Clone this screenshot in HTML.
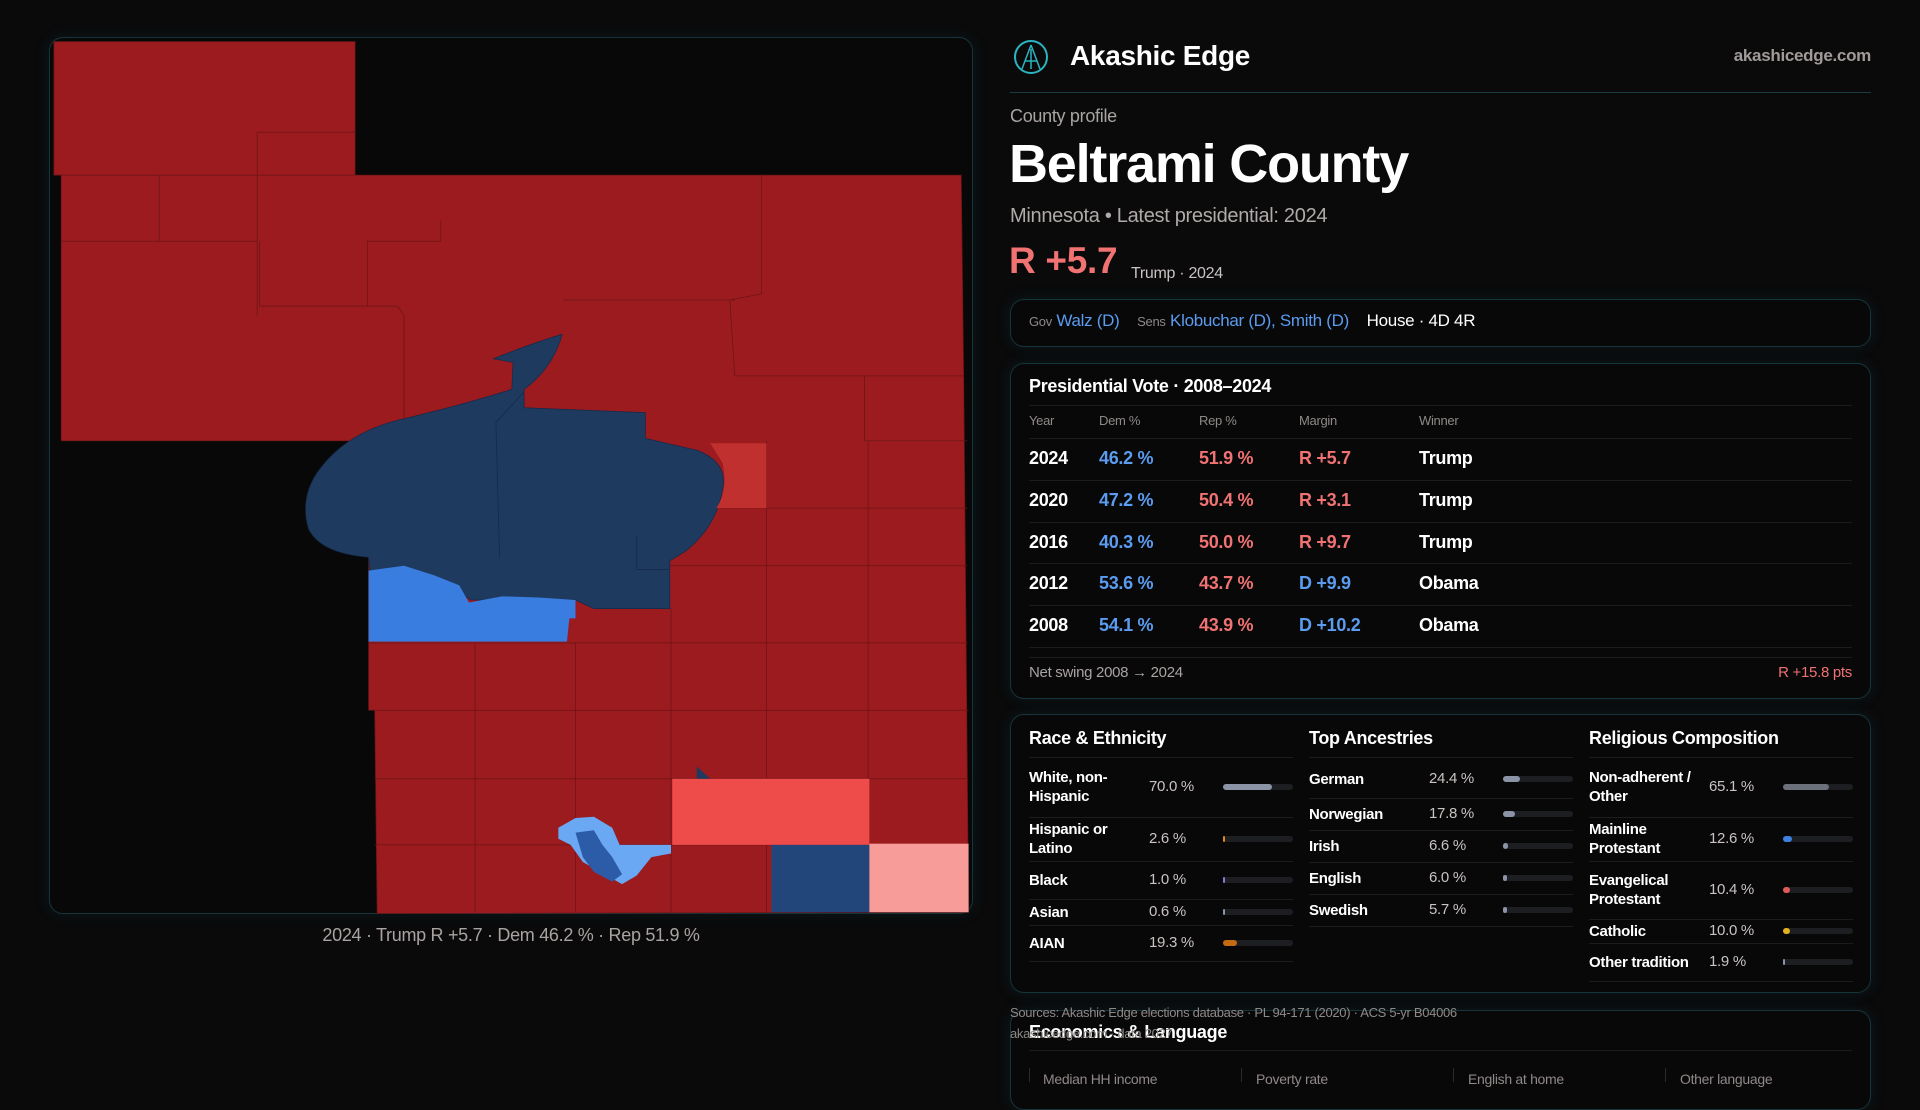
<!DOCTYPE html>
<html><head><meta charset="utf-8">
<style>
*{box-sizing:border-box;margin:0;padding:0}
body{width:1920px;height:1080px;overflow:hidden;background:#0a0a0b;font-family:"Liberation Sans",sans-serif;color:#fff;position:relative;letter-spacing:-0.3px}
.abs{position:absolute;white-space:nowrap}
.panel{position:absolute;border:1px solid #15353b;border-radius:14px;background:#080809;box-shadow:0 0 14px rgba(20,70,80,0.25)}
.gray{color:#a9a3a1}
.blue{color:#5b9cf0}
.red{color:#f07272}
.hdr{font-size:13px;color:#8f8987}
.rowline{position:absolute;left:1029px;width:823px;height:1px;background:#1c1c1f}
.track{position:absolute;height:6px;border-radius:3px;background:#1d1e22}
.fill{position:absolute;left:0;top:0;height:6px;border-radius:3px}
</style></head><body>

<div class="panel" style="left:49px;top:37px;width:924px;height:877px"></div>
<svg class="abs" style="left:0;top:0" width="1920" height="1080" viewBox="0 0 1568 882">
 <g stroke="#6a1417" stroke-width="0.6">
  <path d="M44,34 L290,34 L290,143 L785,143 L787,307 L791,745 L308,746 L306,580 L301,580 L301,360 L50,360 L50,143 L44,143 Z" fill="#9b1b1e"/>
  <path d="M50,143 L290,143 M130,143 L130,197 M50,197 L210,197 L210,258 M210,108 L290,108 M210,108 L210,197 M212,197 L212,250 L300,250 L300,197 L360,197 L360,180 M300,250 L325,250 L330,258 L330,360 M622,143 L622,240 L596,245 L600,307 L787,307 M460,245 L600,245 M706,307 L706,360 L790,360 M626,360 L626,745 M709,360 L709,745 M547,415 L790,415 M547,462 L790,462 M547,525 L790,525 M547,580 L791,580 M306,580 L547,580 M306,636 L791,636 M306,690 L791,690 M388,525 L388,745 M470,525 L470,745 M548,497 L548,745 M301,525 L547,525" fill="none"/>
 </g>
 <path d="M403,293 Q430,282 459,273 Q452,300 428,318 L428,333 L527,337 L527,358 L570,368 Q595,378 590,400 Q585,430 560,450 L547,458 L547,497 L485,497 L470,490 L420,490 L385,490 L360,476 L330,465 L302,466 L301,455 Q262,452 252,432 Q244,405 262,382 Q285,352 330,342 Q372,332 405,322 L418,318 L419,296 Z" fill="#1f3a5f" stroke="#15294a" stroke-width="0.6"/>
 <path d="M428,320 L405,345 L408,455 M520,437 L520,465 L547,465" stroke="#15294a" stroke-width="0.6" fill="none"/>
 <path d="M301,466 L330,462 L355,470 L375,478 L383,492 L410,487 L440,488 L470,490 L470,505 L465,505 L463,524 L301,524 Z" fill="#3a7de0"/>
 <path d="M580,362 L626,362 L626,415 L585,415 Q595,400 590,378 Z" fill="#c0302f"/>
 <rect x="549" y="636" width="161" height="54" fill="#ee4b4b"/>
 <rect x="630" y="690" width="80" height="55" fill="#22467a"/>
 <rect x="710" y="689" width="81" height="56" fill="#f89c9a"/>
 <path d="M456,676 L470,668 L485,667 L500,676 L506,690 L548,690 L548,697 L532,700 L520,715 L508,722 L490,712 L476,704 L466,690 L456,685 Z" fill="#6aa8f4"/>
 <path d="M470,680 L485,678 L492,690 L500,700 L508,714 L500,720 L485,712 L476,700 Z" fill="#2c5ba8"/>
 <path d="M569,626 L580,636 L569,636 Z" fill="#1f3a5f"/>
</svg>
<div class="abs gray" style="left:0;width:1022px;top:925px;font-size:18px;text-align:center">2024 · Trump R +5.7 · Dem 46.2 % · Rep 51.9 %</div>

<svg class="abs" style="left:1013px;top:39px" width="36" height="36" viewBox="0 0 36 36">
 <circle cx="18" cy="18" r="16" fill="none" stroke="#2bb3c0" stroke-width="2"/>
 <path d="M18,6 L9,30 M18,6 L27,30 M12,22 L24,22 M18,10 L18,30" stroke="#2bb3c0" stroke-width="1.5" fill="none"/>
</svg>
<div class="abs" style="left:1070px;top:40px;font-size:28px;font-weight:bold">Akashic Edge</div>
<div class="abs" style="right:49px;top:46px;font-size:17px;font-weight:bold;color:#a09a98">akashicedge.com</div>
<div class="abs" style="left:1010px;top:92px;width:861px;height:1px;background:#1c3a40"></div>

<div class="abs gray" style="left:1010px;top:106px;font-size:18px">County profile</div>
<div class="abs" style="left:1009px;top:133px;font-size:54px;font-weight:bold;letter-spacing:-1.2px">Beltrami County</div>
<div class="abs" style="left:1010px;top:205px;font-size:20px;color:#b0aaa8">Minnesota • Latest presidential: 2024</div>
<div class="abs red" style="left:1009px;top:240px;font-size:37px;font-weight:bold">R +5.7</div>
<div class="abs" style="left:1131px;top:265px;font-size:16px;color:#c9c3c1">Trump · 2024</div>

<div class="panel" style="left:1010px;top:299px;width:861px;height:48px"></div>
<div class="abs" style="left:1029px;top:311px;font-size:17px">
 <span style="font-size:13px;color:#8f8987">Gov</span> <span class="blue">Walz (D)</span>&nbsp;&nbsp;&nbsp; <span style="font-size:13px;color:#8f8987">Sens</span> <span class="blue">Klobuchar (D), Smith (D)</span>&nbsp;&nbsp;&nbsp; <span>House · 4D 4R</span></div>

<div class="panel" style="left:1010px;top:363px;width:861px;height:336px"></div>
<div class="abs" style="left:1029px;top:376px;font-size:18px;font-weight:bold">Presidential Vote · 2008–2024</div>
<div class="rowline" style="top:405px"></div>
<div class="abs hdr" style="left:1029px;top:413px">Year</div>
<div class="abs hdr" style="left:1099px;top:413px">Dem %</div>
<div class="abs hdr" style="left:1199px;top:413px">Rep %</div>
<div class="abs hdr" style="left:1299px;top:413px">Margin</div>
<div class="abs hdr" style="left:1419px;top:413px">Winner</div>
<div class="rowline" style="top:438px"></div>
<div id="vote-rows"></div>
<div class="rowline" style="top:657px"></div>
<div class="abs gray" style="left:1029px;top:664px;font-size:15px">Net swing 2008 → 2024</div>
<div class="abs red" style="right:68px;top:664px;font-size:15px">R +15.8 pts</div>

<div class="panel" style="left:1010px;top:714px;width:861px;height:279px"></div>
<div class="abs" style="left:1029px;top:728px;font-size:18px;font-weight:bold">Race &amp; Ethnicity</div>
<div class="abs" style="left:1309px;top:728px;font-size:18px;font-weight:bold">Top Ancestries</div>
<div class="abs" style="left:1589px;top:728px;font-size:18px;font-weight:bold">Religious Composition</div>
<div id="demo"></div>

<div class="panel" style="left:1010px;top:1010px;width:861px;height:100px"></div>
<div class="abs" style="left:1029px;top:1022px;font-size:18px;font-weight:bold">Economics &amp; Language</div>
<div class="abs" style="left:1029px;top:1050px;width:823px;height:1px;background:#1c1c1f"></div>
<div class="abs hdr" style="left:1043px;top:1071px;font-size:14px">Median HH income</div>
<div class="abs hdr" style="left:1256px;top:1071px;font-size:14px">Poverty rate</div>
<div class="abs hdr" style="left:1468px;top:1071px;font-size:14px">English at home</div>
<div class="abs hdr" style="left:1680px;top:1071px;font-size:14px">Other language</div>
<div class="abs" style="left:1029px;top:1068px;width:1px;height:14px;background:#2a2a2e"></div>
<div class="abs" style="left:1241px;top:1068px;width:1px;height:14px;background:#2a2a2e"></div>
<div class="abs" style="left:1453px;top:1068px;width:1px;height:14px;background:#2a2a2e"></div>
<div class="abs" style="left:1665px;top:1068px;width:1px;height:14px;background:#2a2a2e"></div>
<div class="abs" style="left:1010px;top:1005px;font-size:13px;color:#8f8987">Sources: Akashic Edge elections database · PL 94-171 (2020) · ACS 5-yr B04006</div>
<div class="abs" style="left:1010px;top:1026px;font-size:13px;color:#8f8987">akashicedge.com · data 2027</div>

<script>
const years=["2024","2020","2016","2012","2008"];
const demPct=[46.2,47.2,40.3,53.6,54.1];
const repPct=[51.9,50.4,50.0,43.7,43.9];
const margins=["R +5.7","R +3.1","R +9.7","D +9.9","D +10.2"];
const winners=["Trump","Trump","Trump","Obama","Obama"];

const raceLabels=["White, non-\nHispanic","Hispanic or\nLatino","Black","Asian","AIAN"];
const raceValues=[70.0,2.6,1.0,0.6,19.3];
const ancLabels=["German","Norwegian","Irish","English","Swedish"];
const ancValues=[24.4,17.8,6.6,6.0,5.7];
const relLabels=["Non-adherent /\nOther","Mainline\nProtestant","Evangelical\nProtestant","Catholic","Other tradition"];
const relValues=[65.1,12.6,10.4,10.0,1.9];

const raceColors=["#8a94a6","#e08a1a","#8a7ad8","#8a94a6","#c46a12"];
const relColors=["#6c707a","#3d80e0","#e05a5a","#e0b020","#8a94a6"];

const rowTop=438,rowH=41.8;
const rows=document.getElementById('vote-rows');
years.forEach((y,i)=>{
  const cy=rowTop+rowH*i+rowH/2;
  const isR=margins[i].startsWith("R");
  const cells=[[1029,y,"#fff"],[1099,demPct[i].toFixed(1)+" %","#5b9cf0"],[1199,repPct[i].toFixed(1)+" %","#f07272"],[1299,margins[i],isR?"#f07272":"#5b9cf0"],[1419,winners[i],"#fff"]];
  const names=['year','dem','rep','margin','winner'];
  cells.forEach((c,j)=>{
    const d=document.createElement('div');
    d.className='abs';
    d.style.cssText=`left:${c[0]}px;top:${cy-11}px;font-size:18px;font-weight:bold;color:${c[2]}`;
    d.textContent=c[1];
    
    
    rows.appendChild(d);
  });
  const l=document.createElement('div');
  l.className='rowline';l.style.top=(rowTop+rowH*(i+1))+'px';
  rows.appendChild(l);
});

const demo=document.getElementById('demo');
function col(x,labels,values,colors,heights,prefix,start){
  let y=start;
  const line0=document.createElement('div');line0.className='abs';
  line0.style.cssText=`left:${x}px;top:757px;width:264px;height:1px;background:#1c1c1f`;demo.appendChild(line0);
  labels.forEach((lab,i)=>{
    const h=heights[i];const cy=y+h/2;
    const t=document.createElement('div');t.className='abs';
    t.style.cssText=`left:${x}px;top:${cy-(lab.includes('\n')?19:9)}px;font-size:15px;font-weight:bold;line-height:19px;white-space:pre`;
    t.textContent=lab;
    
    
    demo.appendChild(t);
    const v=document.createElement('div');v.className='abs';
    v.style.cssText=`left:${x+120}px;top:${cy-9}px;font-size:15px;color:#c9c3c1`;
    v.textContent=values[i].toFixed(1)+' %';
    
    
    demo.appendChild(v);
    const tr=document.createElement('div');tr.className='track';
    tr.style.cssText+=`left:${x+194}px;top:${cy-3}px;width:70px`;
    
    
    const f=document.createElement('div');f.className='fill';
    f.style.width=Math.max(2,values[i]/100*70)+'px';f.style.background=colors[i];
    tr.appendChild(f);demo.appendChild(tr);
    y+=h;
    const l=document.createElement('div');l.className='abs';
    l.style.cssText=`left:${x}px;top:${y}px;width:264px;height:1px;background:#1c1c1f`;demo.appendChild(l);
  });
}
col(1029,raceLabels,raceValues,raceColors,[60,44,38,26,36],'race',757);
col(1309,ancLabels,ancValues,["#8a94a6","#8a94a6","#8a94a6","#8a94a6","#8a94a6"],[38,32,32,32,32],'ancestry',760);
col(1589,relLabels,relValues,relColors,[60,44,58,24,38],'religion',757);
</script>
</body></html>
